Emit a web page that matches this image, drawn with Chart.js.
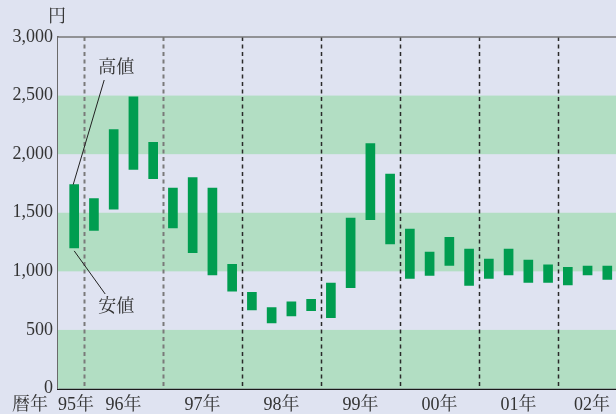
<!DOCTYPE html>
<html>
<head>
<meta charset="utf-8">
<script src="https://cdn.jsdelivr.net/npm/chart.js@4/dist/chart.umd.min.js"></script>
<style>
  html, body { margin: 0; padding: 0; background: #dfe3f1; }
  #wrap { width: 616px; height: 414px; }
</style>
</head>
<body>
<div id="wrap"><canvas id="chart" width="616" height="414"></canvas></div>
<script>
// quarterly price range (yen), starting 95 Q4
const quarters = ["95Q4",
  "96Q1","96Q2","96Q3","96Q4",
  "97Q1","97Q2","97Q3","97Q4",
  "98Q1","98Q2","98Q3","98Q4",
  "99Q1","99Q2","99Q3","99Q4",
  "00Q1","00Q2","00Q3","00Q4",
  "01Q1","01Q2","01Q3","01Q4",
  "02Q1","02Q2","02Q3"];
const highs = [1740,
  1620, 2210, 2490, 2100,
  1710, 1800, 1710, 1060,
  820, 690, 740, 760,
  900, 1455, 2090, 1830,
  1360, 1165, 1290, 1190,
  1105, 1190, 1095, 1055,
  1035, 1045, 1045];
const lows = [1200,
  1350, 1530, 1870, 1790,
  1370, 1160, 970, 830,
  670, 560, 620, 665,
  605, 860, 1440, 1235,
  940, 965, 1050, 880,
  940, 970, 905, 905,
  885, 970, 930];
const yearLabels = ["95年","96年","97年","98年","99年","00年","01年","02年"];
const yTicks = [0, 500, 1000, 1500, 2000, 2500, 3000];
const bands = [[0, 500], [1000, 1500], [2000, 2500]];

const FONT = "'Liberation Serif', 'Noto Serif CJK JP'";

// x axis in quarters, 0 = start of 96
const barData = quarters.map((q, i) => ({ x: i - 0.5, y: [lows[i], highs[i]] }));

const decor = {
  id: "decor",
  beforeDatasetsDraw(chart) {
    const { ctx, chartArea: a, scales: { x, y } } = chart;
    ctx.save();
    ctx.fillStyle = "#dfe3f1";
    ctx.fillRect(a.left, a.top, a.right - a.left, a.bottom - a.top);
    ctx.fillStyle = "#b2dec3";
    bands.forEach(([lo, hi]) => {
      const t = y.getPixelForValue(hi), b = y.getPixelForValue(lo);
      ctx.fillRect(a.left, t, a.right - a.left, b - t);
    });
    // year separators
    for (let k = 0; k <= 24; k += 4) {
      const px = Math.round(x.getPixelForValue(k)) + 0.5;
      ctx.beginPath();
      ctx.setLineDash([4, 3.5]);
      ctx.lineWidth = k < 8 ? 2 : 1.5;
      ctx.strokeStyle = k < 8 ? "#7a7a7a" : "#2a2a2a";
      ctx.moveTo(px, a.top);
      ctx.lineTo(px, a.bottom);
      ctx.stroke();
    }
    ctx.setLineDash([]);
    // top border
    ctx.strokeStyle = "#777";
    ctx.lineWidth = 1.5;
    ctx.beginPath();
    ctx.moveTo(a.left, a.top);
    ctx.lineTo(a.right, a.top);
    ctx.stroke();
    ctx.restore();
  },
  afterDraw(chart) {
    const { ctx, chartArea: a, scales: { x, y } } = chart;
    ctx.save();
    ctx.font = "18px " + FONT;
    ctx.fillStyle = "#333";
    ctx.textBaseline = "middle";
    const ly = 405;
    // year labels
    yearLabels.forEach((lab, i) => {
      const c = x.getPixelForValue(i * 4 - 2);
      const w = ctx.measureText(lab).width;
      let left = c - w / 2;
      if (left < a.left) left = a.left;
      if (left + w > a.right - 6) left = a.right - 6 - w;
      ctx.textAlign = "left";
      ctx.fillText(lab, left, ly);
    });
    ctx.textAlign = "center";
    ctx.fillText("暦年", 30, ly);
    ctx.fillText("円", a.left - 1, 17);

    // high / low annotations on first bar
    const bx = x.getPixelForValue(barData[0].x);
    const topPx = y.getPixelForValue(highs[0]);
    const botPx = y.getPixelForValue(lows[0]);
    ctx.fillText("高値", bx + 42, 68);
    ctx.fillText("安値", bx + 42, 307);
    ctx.strokeStyle = "#222";
    ctx.lineWidth = 1;
    ctx.beginPath();
    ctx.moveTo(bx + 30, 80);
    ctx.lineTo(bx - 1, topPx);
    ctx.moveTo(bx, botPx + 3);
    ctx.lineTo(bx + 31, 294);
    ctx.stroke();
    ctx.restore();
  }
};

new Chart(document.getElementById("chart"), {
  type: "bar",
  data: {
    datasets: [{
      data: barData,
      backgroundColor: "#009d50",
      borderWidth: 0,
      barThickness: 9
    }]
  },
  options: {
    responsive: false,
    animation: false,
    layout: { padding: { top: 37, right: 0, left: 0, bottom: 0 } },
    plugins: { legend: { display: false }, tooltip: { enabled: false } },
    scales: {
      x: {
        type: "linear",
        offset: false,
        min: -1.32,
        max: 26.94,
        grid: { display: false, drawTicks: false },
        ticks: { display: false },
        border: { color: "#1a1a1a", width: 2 },
        afterFit: s => { s.height = 25.5; }
      },
      y: {
        min: 0,
        max: 3000,
        afterBuildTicks: s => { s.ticks = yTicks.map(v => ({ value: v })); },
        grid: { display: false, drawTicks: false },
        border: { color: "#6a6a6a", width: 2 },
        ticks: {
          padding: 5,
          color: "#333",
          font: { family: FONT, size: 18 },
          callback: v => v.toLocaleString("en-US")
        },
        afterFit: s => { s.width = 58; }
      }
    }
  },
  plugins: [decor]
});
</script>
</body>
</html>
